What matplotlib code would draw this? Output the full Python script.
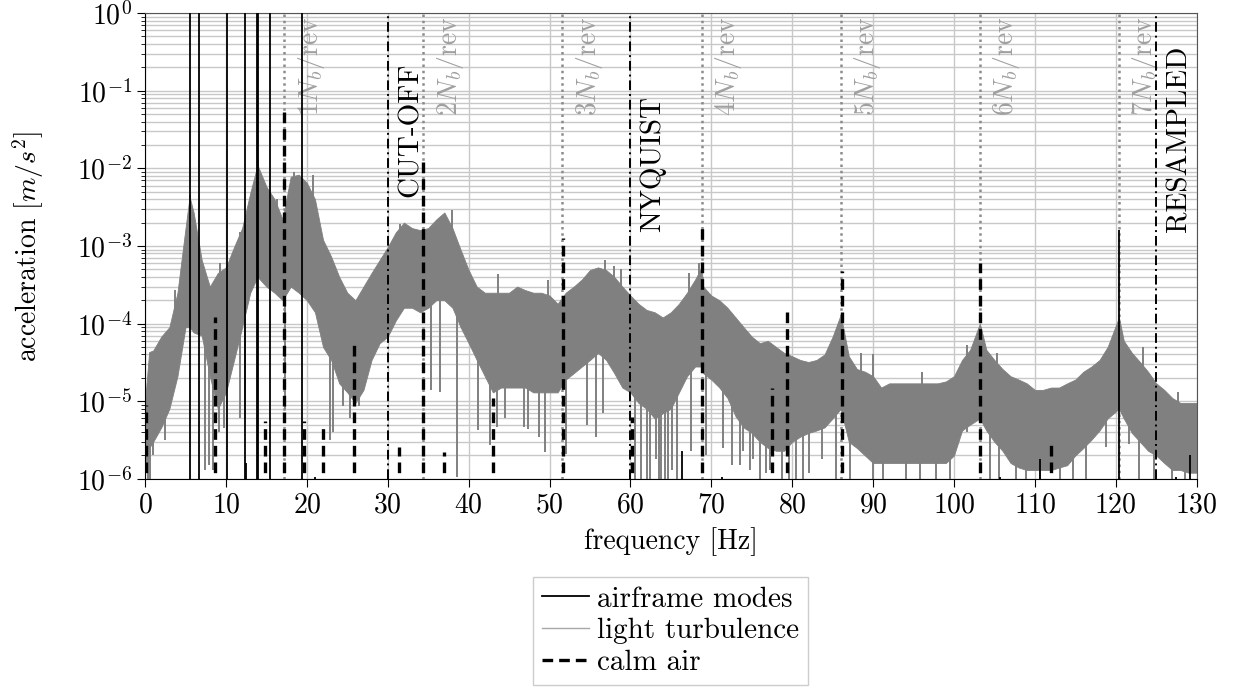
import numpy as np
import matplotlib
matplotlib.use('Agg')
import matplotlib.pyplot as plt
from matplotlib.ticker import LogLocator, MultipleLocator, NullFormatter

plt.rcParams['font.family'] = 'serif'
plt.rcParams['font.serif'] = ['cmr10', 'DejaVu Serif']
plt.rcParams['mathtext.fontset'] = 'cm'
plt.rcParams['axes.unicode_minus'] = False
plt.rcParams['axes.formatter.use_mathtext'] = True

# light turbulence spectrum, upper and lower envelope of the gray band
turb_f = [0, 0.5, 1, 2, 3, 4, 5, 5.5, 6, 7,
          8, 9, 10, 11, 12, 13, 13.9, 15, 16, 17,
          18, 19, 20, 21, 22, 23, 24, 25, 26, 27,
          28, 29, 30, 31, 32, 33, 34, 35, 36,
          37, 38, 39, 40, 41, 42, 43, 44, 45, 46,
          47, 48, 49, 50, 51, 52, 53, 54, 55,
          56, 57, 58, 59, 60, 61, 62, 63, 64,
          65, 66, 67, 68, 68.8, 69, 70, 71, 72,
          73, 74, 75, 76, 77, 78, 79, 80, 81, 82,
          83, 84, 85, 86, 87, 88, 89, 90, 91,
          92, 93, 94, 95, 96, 97, 98, 99, 100,
          101, 102, 103.2, 104, 105, 106, 107, 108, 109,
          110, 111, 112, 113, 114, 115, 116, 117, 118,
          119, 120.4, 121, 122, 123, 124, 125, 126, 127,
          128, 129, 130]
turb_hi = [1.0e-5, 4.3e-5, 4.5e-5, 6.8e-5, 9e-5, 2.5e-4, 1.7e-3, 4.3e-3, 2.7e-3, 6.6e-4,
           3e-4, 4.5e-4, 5.3e-4, 9.7e-4, 1.7e-3, 4.8e-3, 1.1e-2, 5.8e-3, 4e-3, 2.2e-3,
           7.8e-3, 8.3e-3, 6.5e-3, 4e-3, 1.2e-3, 7.3e-4, 4e-4, 2.5e-4, 2e-4, 3e-4,
           4.5e-4, 6.6e-4, 9.7e-4, 1.5e-3, 2e-3, 1.7e-3, 1.6e-3, 1.7e-3, 2.2e-3,
           2.7e-3, 1.7e-3, 9e-4, 4.9e-4, 3e-4, 2.5e-4, 2.5e-4, 2.5e-4, 2.5e-4, 3e-4,
           2.7e-4, 2.5e-4, 2.5e-4, 2.3e-4, 1.8e-4, 2.5e-4, 3e-4, 3.7e-4, 4.9e-4,
           5.3e-4, 4.9e-4, 4e-4, 3e-4, 2.3e-4, 1.8e-4, 1.5e-4, 1.4e-4, 1.2e-4,
           1.4e-4, 1.8e-4, 2.5e-4, 3.7e-4, 5.3e-4, 3e-4, 2.3e-4, 2e-4, 1.6e-4,
           1.2e-4, 9e-5, 6.8e-5, 5.6e-5, 6e-5, 5e-5, 4.2e-5, 3.8e-5, 3.4e-5, 3.2e-5,
           3.4e-5, 4e-5, 6.8e-5, 1.3e-4, 3.8e-5, 2.6e-5, 2.4e-5, 2.1e-5, 1.5e-5,
           1.7e-5, 1.7e-5, 1.7e-5, 1.7e-5, 1.7e-5, 1.7e-5, 1.7e-5, 1.8e-5, 2.1e-5,
           3.4e-5, 4.6e-5, 1.0e-4, 4.6e-5, 3.4e-5, 2.6e-5, 2.1e-5, 1.9e-5, 1.7e-5,
           1.4e-5, 1.4e-5, 1.5e-5, 1.5e-5, 1.7e-5, 1.9e-5, 2.4e-5, 2.8e-5, 3.4e-5,
           5e-5, 1.2e-4, 6e-5, 4.2e-5, 3.2e-5, 2.4e-5, 1.7e-5, 1.4e-5, 1.1e-5,
           9.5e-6, 9.5e-6, 9.5e-6]
turb_lo = [1.5e-6, 2.5e-6, 3e-6, 4.6e-6, 8e-6, 2.1e-5, 9e-5, 9e-5, 7.7e-5, 7e-5,
           2.1e-5, 8e-6, 1.3e-5, 3.4e-5, 9e-5, 2.5e-4, 4e-4, 3e-4, 2.5e-4, 2e-4,
           3e-4, 2.5e-4, 2e-4, 1.4e-4, 5e-5, 3.4e-5, 1.7e-5, 1.3e-5, 9.5e-6, 1.4e-5,
           3.4e-5, 5.6e-5, 6.8e-5, 1.1e-4, 1.6e-4, 1.6e-4, 1.4e-4, 1.6e-4, 2e-4,
           2e-4, 1.6e-4, 9e-5, 5.6e-5, 3.4e-5, 2.1e-5, 1.3e-5, 1.5e-5, 1.5e-5, 1.5e-5,
           1.5e-5, 1.3e-5, 1.3e-5, 1.3e-5, 1.3e-5, 1.9e-5, 2.3e-5, 2.8e-5, 3.4e-5,
           4.2e-5, 3.4e-5, 2.3e-5, 1.5e-5, 1.3e-5, 9.5e-6, 8e-6, 6e-6, 7e-6,
           8e-6, 1.3e-5, 2.1e-5, 2.8e-5, 2.8e-5, 2.3e-5, 1.9e-5, 1.5e-5, 1.1e-5,
           6.4e-6, 4.6e-6, 3.9e-6, 3e-6, 2.5e-6, 2.3e-6, 2.3e-6, 3e-6, 3.5e-6, 3.9e-6,
           4.2e-6, 4.6e-6, 6e-6, 8e-6, 3e-6, 2.5e-6, 2e-6, 1.6e-6, 1.6e-6,
           1.6e-6, 1.6e-6, 1.6e-6, 1.6e-6, 1.6e-6, 1.6e-6, 1.6e-6, 1.6e-6, 2e-6,
           4.2e-6, 5e-6, 6e-6, 4.2e-6, 3e-6, 2.3e-6, 1.6e-6, 1.4e-6, 1.3e-6,
           1.3e-6, 1.3e-6, 1.3e-6, 1.4e-6, 1.5e-6, 2e-6, 2.5e-6, 3.2e-6, 4.2e-6,
           6e-6, 8e-6, 6e-6, 3.9e-6, 3e-6, 2.3e-6, 2e-6, 1.6e-6, 1.3e-6,
           1.3e-6, 1.2e-6, 1.2e-6]

# single spikes of the turbulence spectrum that stick out of the band
spike_f = [0.3, 0.6, 1.0, 2.5, 7.4, 7.9, 8.4, 9.2, 9.8, 11.7, 12.4, 17.3, 22.9,
           23.2, 24.5, 25.3, 26.5, 35.4, 36.5, 38.6, 41.2, 42.6, 43.5, 44.5, 46.9,
           47.3, 48.7, 49.4, 52.1, 54.6, 55.8, 56.6, 60.6, 61.3, 62.0, 62.4, 63.2,
           63.5, 63.8, 64.3, 64.7, 65.1, 65.7, 67.5, 69.4, 71.4, 72.5, 73.6, 73.9,
           74.8, 75.2, 76.0, 76.8, 77.2, 78.8, 79.6, 80.5, 81.4, 82.1, 83.7, 85.4,
           87.1, 90.0, 91.2, 94.1, 95.8, 97.8, 99.5, 101.6, 104.4, 105.6, 107.7,
           108.9, 110.6, 113.1, 114.7, 116.3, 118.8, 121.7, 122.9, 124.7, 126.9,
           128.6,
           3.7, 5.5, 9.3, 11.7, 13.9, 16.3, 18.4, 20.8, 31.5, 37.9, 43.6, 49.8,
           56.8, 58.0, 58.9, 67.3, 68.5, 88.5, 90.0, 96.0, 101.6, 105.3, 123.4,
           127.7]
spike_v = [1.0e-6, 1.0e-6, 2e-6, 3.2e-6, 1.3e-6, 1.5e-6, 1.3e-6, 4e-6, 4.5e-6, 6e-6,
           6e-6, 8e-6, 3.2e-6, 4e-6, 8.6e-6, 6e-6, 8.6e-6, 1.4e-5, 1.3e-5, 1.05e-6,
           4.2e-6, 2.7e-6, 4.6e-6, 6e-6, 4.6e-6, 4.4e-6, 3.5e-6, 2.2e-6, 2.1e-6,
           5e-6, 3.5e-6, 7e-6, 1e-6, 1e-6, 1e-6, 1e-6, 1.8e-6, 1e-6, 1e-6, 1e-6,
           1e-6, 1.3e-6, 1e-6, 2.3e-6, 2e-6, 2.5e-6, 1.5e-6, 1.5e-6, 2.3e-6, 1.3e-6,
           1.8e-6, 1e-6, 1.2e-6, 1.3e-6, 1e-6, 1e-6, 1e-6, 1e-6, 1.2e-6, 1.8e-6,
           1e-6, 1e-6, 1e-6, 1e-6, 1e-6, 1e-6, 1e-6, 1e-6, 4e-6, 1e-6, 1e-6, 1e-6,
           1e-6, 1e-6, 1e-6, 1e-6, 1e-6, 2.6e-6, 2.8e-6, 1e-6, 1e-6, 1e-6, 1e-6,
           2.7e-4, 4.6e-3, 6e-4, 1.5e-3, 1.3e-2, 4e-3, 9e-3, 8.3e-3, 1.9e-3, 2.9e-3,
           4.3e-4, 3.6e-4, 6.6e-4, 5.5e-4, 5e-4, 4.5e-4, 6e-4, 4.2e-5, 4e-5, 2.4e-5,
           5.3e-5, 4.2e-5, 5e-5, 1.3e-5]

# airframe modes (solid black)
air_f = [5.52, 6.64, 10.1, 12.36, 13.84, 14.0, 15.4, 19.37, 12.5, 21.0, 66.4,
         71.3, 105.7, 110.6, 120.4, 127.5, 129.2]
air_v = [2, 2, 2, 2, 2, 2, 2, 2, 1.6e-6, 1.05e-6, 2.3e-6, 1.05e-6, 1.05e-6,
         1.8e-6, 1.6e-3, 1.05e-6, 2.0e-6]

# calm air (dashed black)
calm_f = [0.1, 8.6, 14.8, 17.2, 19.6, 22.0, 25.85, 31.4, 34.4, 36.9, 43.0, 51.7,
          60.15, 68.9, 77.5, 79.4, 86.1, 103.2, 111.95]
calm_v = [9e-6, 1.2e-4, 5.5e-6, 5.6e-2, 5.6e-6, 4.6e-6, 5.3e-5, 2.6e-6, 1.3e-2,
          2.2e-6, 1.1e-5, 1.27e-3, 6.3e-6, 1.9e-3, 1.5e-5, 1.6e-4, 4.7e-4, 6e-4,
          2.8e-6]

# blade passing harmonics
nb_freq = 17.2
harmonics = [1, 2, 3, 4, 5, 6, 7]

# marker lines
marks = [30, 60, 125]
mark_labels = ['CUT-OFF', 'NYQUIST', 'RESAMPLED']
mark_label_y = [4.3e-3, 1.5e-3, 1.5e-3]

fig = plt.figure(figsize=(12.4, 6.89), dpi=100)
ax = fig.add_axes([0.117, 0.305, 0.848, 0.676])

ax.set_yscale('log')
ax.set_xlim(0, 130)
ax.set_ylim(1e-6, 1)

ax.xaxis.set_major_locator(MultipleLocator(10))
ax.yaxis.set_major_locator(LogLocator(base=10, numticks=10))
ax.yaxis.set_minor_locator(LogLocator(base=10, subs=np.arange(2, 10), numticks=20))
ax.yaxis.set_minor_formatter(NullFormatter())
ax.grid(True, which='major', axis='both', color='#c8c8c8', lw=1.0, zorder=0)
ax.grid(True, which='minor', axis='y', color='#c8c8c8', lw=1.0, zorder=0)
ax.set_axisbelow(True)

for n in harmonics:
    ax.axvline(n * nb_freq, color='#8c8c8c', ls=(0, (1, 1.5)), lw=1.8, zorder=1)
    ax.text(n * nb_freq + 1.4, 0.9, r'$%dN_b/\mathrm{rev}$' % n, rotation=90,
            color='#a0a0a0', fontsize=20, ha='left', va='top')

# turbulence band + the spikes, which run from the middle of the band out
gray = '#808080'
ax.fill_between(turb_f, turb_lo, turb_hi, color=gray, lw=0.6, zorder=2)
band_mid = np.sqrt(np.interp(spike_f, turb_f, turb_lo) * np.interp(spike_f, turb_f, turb_hi))
ax.vlines(spike_f, spike_v, band_mid, color=gray, lw=1.4, zorder=2)

ax.vlines(calm_f, 1e-7, calm_v, color='black', lw=2.4, linestyles=(0, (3.2, 1.8)),
          zorder=3)
ax.vlines(air_f, 1e-7, air_v, color='black', lw=1.3, zorder=4)

for m, lab, ly in zip(marks, mark_labels, mark_label_y):
    ax.axvline(m, color='black', ls=(0, (5, 2, 1, 2)), lw=1.4, zorder=4)
    ax.text(m + 1.2, ly, lab, rotation=90, fontsize=21, ha='left', va='bottom')

ax.tick_params(axis='both', which='major', labelsize=20, length=6, direction='out')
ax.tick_params(axis='y', which='minor', length=3, direction='out')
ax.set_xlabel('frequency [Hz]', fontsize=20, labelpad=6)
ax.set_ylabel(r'acceleration $[m/s^2]$', fontsize=20, labelpad=22)
for s in ['top', 'right']:
    ax.spines[s].set_color('#555555')

h_air, = ax.plot([], [], color='black', lw=1.3)
h_turb, = ax.plot([], [], color='#a8a8a8', lw=1.0)
h_calm, = ax.plot([], [], color='black', lw=2.4, ls=(0, (3.2, 1.8)))
fig.legend([h_air, h_turb, h_calm], ['airframe modes', 'light turbulence', 'calm air'],
           loc='upper center', bbox_to_anchor=(0.541, 0.162), fontsize=21,
           frameon=True, fancybox=False, edgecolor='#cccccc', framealpha=1,
           handlelength=1.6, handletextpad=0.3, labelspacing=0.18, borderpad=0.3,
           borderaxespad=0)

fig.savefig('out.png', dpi=100)
